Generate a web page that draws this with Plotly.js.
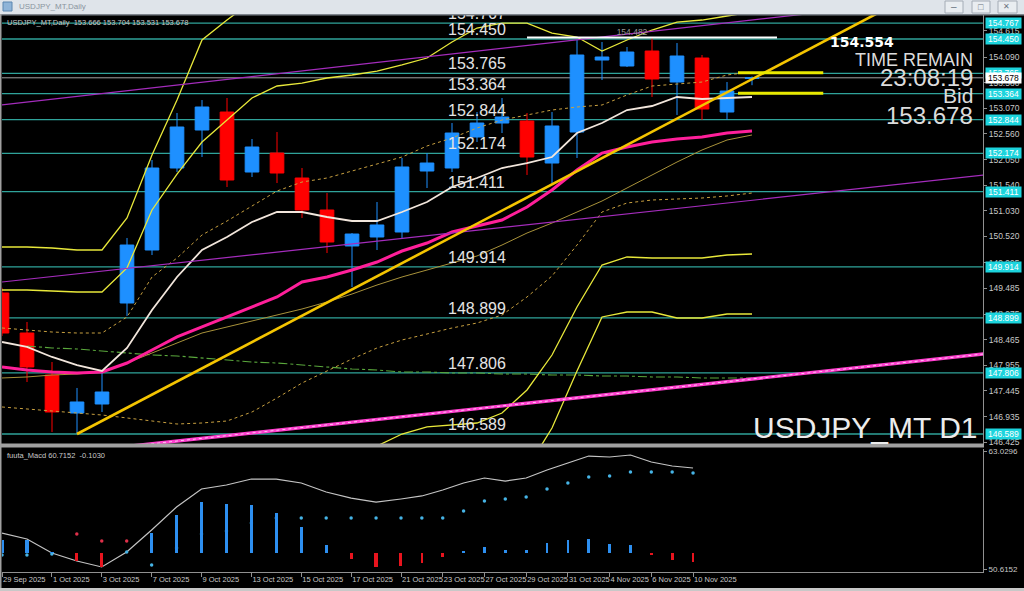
<!DOCTYPE html>
<html><head><meta charset="utf-8">
<script src="https://cdn.plot.ly/plotly-3.0.1.min.js"></script>
<style>html,body{margin:0;padding:0;background:#000;overflow:hidden}#chart{width:1024px;height:591px}</style>
</head><body><div id="chart"></div>
<script>
// ---------------- DATA ----------------
const dates = ['29 Sep 2025','30 Sep 2025','1 Oct 2025','2 Oct 2025','3 Oct 2025','6 Oct 2025','7 Oct 2025','8 Oct 2025','9 Oct 2025','10 Oct 2025','13 Oct 2025','14 Oct 2025','15 Oct 2025','16 Oct 2025','17 Oct 2025','20 Oct 2025','21 Oct 2025','22 Oct 2025','23 Oct 2025','24 Oct 2025','27 Oct 2025','28 Oct 2025','29 Oct 2025','30 Oct 2025','31 Oct 2025','3 Nov 2025','4 Nov 2025','5 Nov 2025','6 Nov 2025','7 Nov 2025','10 Nov 2025'];
const open  = [149.395,148.599,147.763,147.007,147.186,149.196,150.251,151.883,152.639,152.997,151.803,152.181,151.684,151.047,150.331,150.510,150.609,151.823,151.883,152.500,152.778,152.818,151.982,152.599,154.032,153.913,154.211,153.594,154.072,152.997,153.666];
const high  = [149.500,148.818,148.022,147.505,147.803,150.490,152.042,152.977,153.236,153.276,152.460,152.599,151.883,151.385,150.589,151.206,152.082,152.181,152.778,152.997,153.276,152.977,152.997,154.430,154.390,154.291,154.482,154.370,154.132,153.594,153.704];
const low   = [148.540,147.624,146.629,146.589,147.027,148.938,150.151,151.803,152.102,151.505,151.704,151.584,150.888,150.191,149.515,150.251,150.490,151.485,151.803,152.400,152.579,151.744,151.584,152.082,153.634,153.893,153.296,152.938,152.838,152.838,153.531];
const close = [148.599,147.923,147.027,147.226,147.425,150.350,151.883,152.699,153.097,151.644,152.301,151.783,151.047,150.410,150.569,150.749,151.903,151.982,152.579,152.778,152.898,152.102,152.719,154.132,154.092,154.191,153.654,154.112,153.057,153.415,153.678];

const maWhite = [148.420,148.321,148.122,147.962,147.843,148.301,149.057,149.714,150.251,150.510,150.808,151.007,151.007,150.908,150.828,150.828,151.007,151.206,151.505,151.684,151.883,151.982,152.102,152.579,152.778,153.037,153.117,153.296,153.256,153.276,153.296];
const maPink  = [147.923,147.863,147.823,147.803,147.823,148.002,148.261,148.520,148.719,148.918,149.117,149.316,149.614,149.714,149.853,150.012,150.231,150.390,150.609,150.729,150.848,151.107,151.445,151.843,152.181,152.301,152.400,152.460,152.500,152.579,152.619];
const maKhaki = [147.704,147.724,147.763,147.783,147.823,148.002,148.201,148.400,148.599,148.719,148.838,148.957,149.077,149.216,149.375,149.554,149.714,149.853,149.992,150.132,150.350,150.589,150.788,151.007,151.226,151.485,151.744,152.002,152.241,152.440,152.540];
const maGreen = [null,148.341,148.301,148.281,148.241,148.201,148.162,148.142,148.102,148.062,148.022,148.002,147.962,147.923,147.883,147.863,147.823,147.823,147.803,147.803,147.783,147.783,147.763,147.763,147.743,147.743,147.724,147.724,147.704,147.704,147.704];
const envUpper = [148.699,148.659,148.619,148.599,148.599,148.918,149.714,150.092,150.550,150.828,151.127,151.425,151.604,151.684,151.823,151.962,152.102,152.321,152.480,152.679,152.838,152.938,153.037,153.097,153.137,153.336,153.515,153.554,153.594,153.734,153.793];
const envLower = [147.127,147.087,147.047,147.007,146.967,146.908,146.848,146.788,146.808,146.848,147.027,147.306,147.604,147.843,148.082,148.301,148.460,148.579,148.699,148.798,148.957,149.316,149.734,150.350,151.007,151.186,151.246,151.266,151.286,151.326,151.385];
const bbUpper3 = [150.311,150.311,150.291,150.251,150.251,150.888,152.142,153.236,154.430,154.828,155.2,155.4,155.5,155.5,155.5,155.5,155.6,155.7,155.9,156.1,156.2,156.2,156.1,156.1,155.9,156.0,156.1,156.2,156.3,156.4,156.5];
const bbUpper2 = [149.455,149.455,149.435,149.415,149.415,149.893,151.047,151.763,152.400,152.838,153.276,153.515,153.574,153.674,153.734,153.813,153.933,154.072,154.390,154.669,154.768,154.768,154.569,154.490,154.211,154.430,154.629,154.788,154.828,154.908,154.987];
const bbLower2 = [146.25,146.25,146.2,146.2,146.2,145.9,145.2,144.8,144.5,144.6,144.9,145.2,145.5,145.8,146.1,146.35,146.589,146.729,146.768,146.808,147.007,147.465,148.161,149.117,149.952,150.112,150.092,150.092,150.092,150.151,150.171];
const bbLower3 = [145.6,145.6,145.5,145.5,145.5,145.1,144.3,143.8,143.4,143.4,143.8,144.2,144.6,145.0,145.3,145.5,145.6,145.7,145.8,145.8,145.9,145.9,146.709,147.843,148.918,149.017,149.017,148.898,148.898,148.977,148.977];

const levels = [154.767,154.450,153.765,153.364,152.844,152.174,151.411,149.914,148.899,147.806,146.589];
const yTickVals = [146.425,146.935,147.445,147.955,148.465,148.975,149.485,149.995,150.520,151.030,151.540,152.050,152.560,153.070,153.580,154.090,154.615];

const trendGoldX = [3,36],  trendGoldY = [146.589,155.22];
const trendPurpleHiX = [0,40], trendPurpleHiY = [153.141,155.389];
const trendPurpleLoX = [0,40], trendPurpleLoY = [149.614,151.782];
const trendPinkX = [0,40], trendPinkY = [146.073,148.221];
const highLineX = [21,31];
const sideBarLevels = [153.78,153.37];
const sideBarX = [29.44,32.85];

const macdLine = [54.40,53.77,52.30,51.46,50.83,52.40,54.72,57.14,59.03,59.45,60.08,60.08,59.66,58.72,58.08,57.66,57.98,58.30,58.93,59.66,60.19,59.87,60.19,61.03,61.77,62.50,62.40,62.61,61.87,61.45,61.24];
const macdDots = [52.09,52.09,52.19,null,null,52.40,51.04,52.82,54.30,54.61,55.45,55.98,55.98,55.98,55.98,55.98,55.98,55.98,55.98,56.72,57.77,57.98,58.19,59.03,59.66,60.29,60.40,60.82,60.82,60.82,60.7152];
const macdRedDots = [null,null,null,54.30,53.56,53.56,null,null,null,null,null,null,null,null,null,null,null,null,null,null,null,null,null,null,null,null,null,null,null,null,null];
const macdHist = [0.15,0.149,0.01,-0.092,-0.160,0,0.229,0.435,0.584,0.561,0.549,0.458,0.297,0.092,-0.069,-0.160,-0.149,-0.114,-0.05,0.02,0.069,0.034,0.034,0.114,0.149,0.160,0.103,0.092,-0.02,-0.08,-0.103];

// ---------------- BUILD ----------------
const FONT = 'Liberation Sans, Arial, sans-serif';
const idx = dates.map((d,i)=>i);
const X = px => (px-2)/981;       // pixel -> paper x
const Y = py => (572-py)/557;     // pixel -> paper y
const SPLIT = 16;                 // MACD panel split (21 Oct)

const traces = [];
traces.push({type:'candlestick', x:idx, open:open, high:high, low:low, close:close, xaxis:'x', yaxis:'y',
  increasing:{line:{color:'#1e90ff',width:1}, fillcolor:'#1e90ff'},
  decreasing:{line:{color:'#ff0000',width:1}, fillcolor:'#ff0000'},
  whiskerwidth:0, hoverinfo:'skip'});
const ln = (x,y,color,width,dash) => ({type:'scatter',mode:'lines',x:x,y:y,xaxis:'x',yaxis:'y',
  line:{color:color,width:width,dash:dash||'solid'},hoverinfo:'skip'});
traces.push(ln(idx,maGreen,'#5aa83c',1.1,'dashdot'));
traces.push(ln(idx,envLower,'#c8a040',1,'dot'));
traces.push(ln(idx,envUpper,'#c8a040',1,'dot'));
traces.push(ln(idx,maKhaki,'#a8923a',1));
traces.push(ln(idx,maPink,'#ff1f9a',3));
traces.push(ln(idx,maWhite,'#f2e6dc',1.8));
[bbUpper3,bbUpper2,bbLower2,bbLower3].forEach(b=>traces.push(ln(idx,b,'#e8e83a',1.3)));
traces.push(ln(trendPurpleHiX,trendPurpleHiY,'#a42cbc',1.2));
traces.push(ln(trendPurpleLoX,trendPurpleLoY,'#a42cbc',1.2));
traces.push(ln(trendPinkX,trendPinkY,'#ff3fcf',3.4));
traces.push(ln(trendPinkX,trendPinkY,'#ffc4f2',1,'dot'));
traces.push(ln(trendGoldX,trendGoldY,'#f4c400',2.6));
const hMax = Math.max(...high);
traces.push(ln(highLineX,[hMax,hMax],'#ffffff',2));
sideBarLevels.forEach(v=>traces.push(ln(sideBarX,[v,v],'#e8e800',3)));
// level labels on the chart
traces.push({type:'scatter',mode:'text',x:levels.map(()=>17.84),y:levels,text:levels.map(v=>v.toFixed(3)),
  textposition:'top right',textfont:{family:FONT,size:16,color:'#e4e4e4'},cliponaxis:true,xaxis:'x',yaxis:'y',hoverinfo:'skip'});
traces.push({type:'scatter',mode:'text',x:[25.2],y:[hMax],text:[hMax.toFixed(3)],textposition:'top center',
  textfont:{family:FONT,size:8.5,color:'#9a9a9a'},xaxis:'x',yaxis:'y',hoverinfo:'skip'});

// MACD panel (two segments of the time axis)
const segs = [{xa:'x2',a:0,b:SPLIT},{xa:'x3',a:SPLIT,b:dates.length-1}];
segs.forEach(s=>{
  const xi = idx.slice(s.a,s.b+1);
  const h = macdHist.slice(s.a,s.b+1);
  traces.push({type:'bar',x:xi,y:h,base:0,width:0.13,xaxis:s.xa,yaxis:'y3',
    marker:{color:h.map(v=>v>=0?'#2d8ff0':'#e8141e'),line:{width:0}},hoverinfo:'skip'});
  traces.push({type:'scatter',mode:'lines',x:xi,y:macdLine.slice(s.a,s.b+1),xaxis:s.xa,yaxis:'y2',
    line:{color:'#c4c4c4',width:1.2},hoverinfo:'skip'});
  traces.push({type:'scatter',mode:'markers',x:xi,y:macdDots.slice(s.a,s.b+1),xaxis:s.xa,yaxis:'y2',
    marker:{color:'#46b4e6',size:3.5},hoverinfo:'skip'});
  traces.push({type:'scatter',mode:'markers',x:xi,y:macdRedDots.slice(s.a,s.b+1),xaxis:s.xa,yaxis:'y2',
    marker:{color:'#e0304a',size:3.5},hoverinfo:'skip'});
});

// shapes
const shapes = [];
levels.forEach(v=>shapes.push({type:'line',xref:'paper',x0:0,x1:1,yref:'y',y0:v,y1:v,line:{color:'#2fa39a',width:1.3},layer:'below'}));
shapes.push({type:'line',xref:'paper',x0:0,x1:1,yref:'y',y0:close[close.length-1],y1:close[close.length-1],line:{color:'#a0a0a0',width:1},layer:'below'});
const rect = (x0,x1,y0,y1,fill,lc,lw)=>({type:'rect',xref:'paper',yref:'paper',x0:X(x0),x1:X(x1),y0:Y(y1),y1:Y(y0),fillcolor:fill,line:{color:lc||fill,width:lw||0},layer:'above'});
shapes.push(rect(0,984,443.5,447.5,'#a0a0a0'));
shapes.push(rect(0,1024,0,14,'#dfe4ea'));
shapes.push(rect(0,1024,14,15.5,'#7d838b'));
shapes.push(rect(0,1.5,14,591,'#a0a0a0'));
shapes.push(rect(0,1024,588,591,'#c8c8c8'));
shapes.push(rect(3,12,2,11,'#8fb4d8','#5a86b0',1));
shapes.push(rect(945,963,1,13,'#e9edf1','#a4acb6',1));
shapes.push(rect(972,990,1,13,'#e9edf1','#a4acb6',1));
shapes.push(rect(998,1017,1,13,'#e9edf1','#a4acb6',1));

// annotations
const ann = [];
levels.forEach(v=>ann.push({xref:'paper',yref:'y',x:1,y:v,xanchor:'left',yanchor:'middle',xshift:2,
  text:v.toFixed(3),showarrow:false,bgcolor:'#1cd4dd',width:35,height:10,borderpad:0,
  font:{family:FONT,size:8.5,color:'#ffffff'}}));
const bid = close[close.length-1];
ann.push({xref:'paper',yref:'y',x:1,y:bid,xanchor:'left',yanchor:'middle',xshift:2,text:bid.toFixed(3),showarrow:false,
  bgcolor:'#ffffff',width:35,height:10,borderpad:0,font:{family:FONT,size:8.5,color:'#000000'}});
const txt = (t,px,py,size,color,xanchor,extra)=>Object.assign({xref:'paper',yref:'paper',x:X(px),y:Y(py),text:t,showarrow:false,
  xanchor:xanchor||'left',yanchor:'middle',font:{family:FONT,size:size,color:color}},extra||{});
const n = close.length-1;
ann.push(txt('USDJPY_MT,Daily\u00a0\u00a0'+[open[n],high[n],low[n],close[n]].map(v=>v.toFixed(3)).join(' '),5,22,7.5,'#c8c8c8'));
ann.push(txt('fuuta_Macd '+macdDots[n].toFixed(4)+'\u00a0\u00a0'+macdHist[n].toFixed(4),5,455,7.5,'#c8c8c8'));
ann.push(txt('<b>154.554</b>',828,42,14,'#ffffff','left',{font:{family:'DejaVu Sans, sans-serif',size:14,color:'#ffffff'}}));
ann.push(txt('TIME REMAIN',975,60,18,'#dcdcdc','right'));
ann.push(txt('23:08:19',975,77,24,'#dcdcdc','right'));
ann.push(txt('Bid',975,96,21,'#dcdcdc','right'));
ann.push(txt(bid.toFixed(3),975,115,24,'#dcdcdc','right'));
ann.push(txt('USDJPY_MT D1',980,427,30,'#ececec','right'));
ann.push(txt('USDJPY_MT,Daily',17,7,8,'#8a94a0'));
ann.push(txt('\u2013',954,7,10,'#6a7480','center'));
ann.push(txt('\u25a1',981,7,9,'#6a7480','center'));
ann.push(txt('\u2715',1007,7,8,'#6a7480','center'));

const tickIdx = idx.filter(i=>i%2===0);
const axCommon = {showgrid:false,zeroline:false,fixedrange:true,automargin:false};
const xDate = (vals)=>Object.assign({},axCommon,{tickmode:'array',tickvals:vals,ticktext:vals.map(i=>dates[i]),
  ticklabelposition:'outside right',tickangle:0,ticks:'outside',ticklen:4,tickcolor:'#909090',showline:true,linecolor:'#909090',
  tickfont:{family:FONT,size:7.5,color:'#c8c8c8'},anchor:'y2'});

const layout = {
  width:1024,height:591,margin:{l:2,r:41,t:15,b:19,pad:0},
  paper_bgcolor:'#000000',plot_bgcolor:'#000000',showlegend:false,hovermode:false,boxgap:0.22,bargap:0,
  font:{family:FONT,size:8.5,color:'#c8c8c8'},
  xaxis:Object.assign({},axCommon,{domain:[0,1],range:[0,39.24],anchor:'y',showticklabels:false,ticks:'',showline:false,
    rangeslider:{visible:false}}),
  yaxis:Object.assign({},axCommon,{domain:[Y(444),1],range:[146.390,154.928],side:'right',anchor:'x',
    tickmode:'array',tickvals:yTickVals,ticktext:yTickVals.map(v=>v.toFixed(3)),ticks:'outside',ticklen:3,tickcolor:'#909090',
    showline:true,linecolor:'#909090',tickfont:{family:FONT,size:8.5,color:'#c8c8c8'}}),
  xaxis2:Object.assign(xDate(tickIdx.filter(i=>i<SPLIT)),{domain:[0,X(401)],range:[0,SPLIT]}),
  xaxis3:Object.assign(xDate(tickIdx.filter(i=>i>=SPLIT)),{domain:[X(401),1],range:[SPLIT,SPLIT+(983-401)/20.86]}),
  yaxis2:Object.assign({},axCommon,{domain:[0,Y(449)],range:[50.30,63.24],side:'right',anchor:'x3',
    tickmode:'array',tickvals:[50.6152,63.0296],ticktext:['50.6152','63.0296'],ticks:'outside',ticklen:3,tickcolor:'#909090',
    showline:true,linecolor:'#909090',tickfont:{family:FONT,size:8,color:'#c8c8c8'}}),
  yaxis3:Object.assign({},axCommon,{overlaying:'y2',range:[-0.2174,1.19],visible:false,anchor:'x3'}),
  shapes:shapes,annotations:ann
};
Plotly.newPlot('chart',traces,layout,{staticPlot:true,displayModeBar:false});
</script></body></html>
